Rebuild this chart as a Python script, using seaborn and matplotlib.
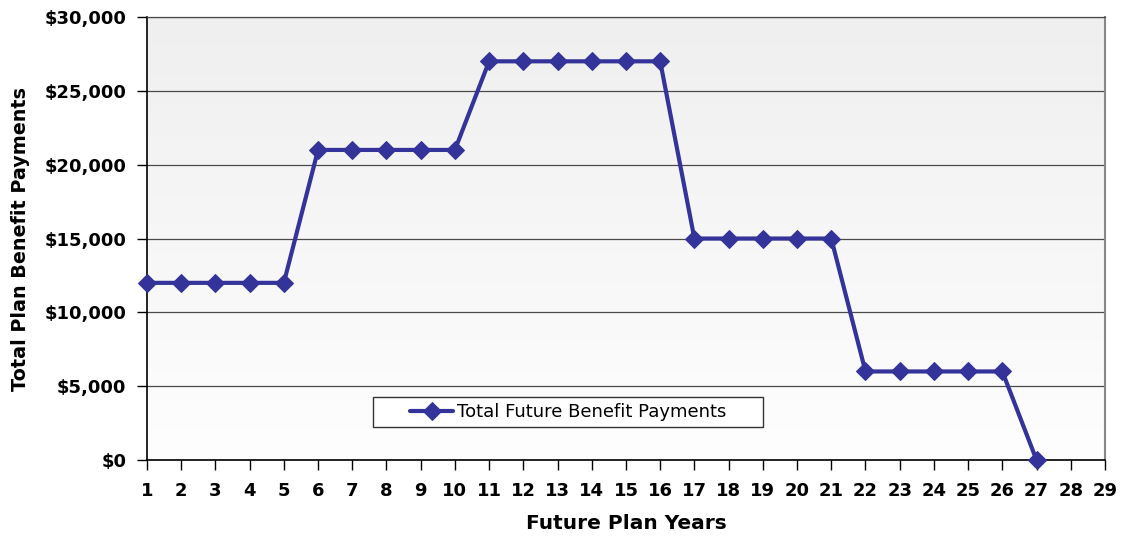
import numpy as np
import pandas as pd
import matplotlib
matplotlib.use("Agg")
import matplotlib.pyplot as plt
import seaborn as sns
from matplotlib.patches import Rectangle

years = list(range(1, 28))
payments = [12000, 12000, 12000, 12000, 12000,
            21000, 21000, 21000, 21000, 21000,
            27000, 27000, 27000, 27000, 27000, 27000,
            15000, 15000, 15000, 15000, 15000,
            6000, 6000, 6000, 6000, 6000,
            0]
x_ticks = list(range(1, 30))
y_ticks = [0, 5000, 10000, 15000, 20000, 25000, 30000]
series_name = "Total Future Benefit Payments"

sns.set_style("white")
plt.rcParams['font.family'] = ['DejaVu Sans']
plt.rcParams['text.color'] = 'black'
plt.rcParams['axes.labelcolor'] = 'black'
plt.rcParams['xtick.color'] = 'black'
plt.rcParams['ytick.color'] = 'black'

df = pd.DataFrame({"year": years, "value": payments})

fig = plt.figure(figsize=(11.21, 5.40), dpi=100)
ax = fig.add_axes([0.1311, 0.148, 0.8546, 0.8205])

# gradient background
grad = np.linspace(0, 1, 256).reshape(-1, 1)
ax.imshow(grad, extent=[0, 1, 0, 1], transform=ax.transAxes, aspect='auto',
          cmap=matplotlib.colors.LinearSegmentedColormap.from_list("g", ["#fefefe", "#efefef"]),
          origin='lower', zorder=0)

sns.lineplot(data=df, x="year", y="value", ax=ax, color="#333399", linewidth=3.0,
             marker="D", markersize=9, markeredgecolor="#333399",
             label=series_name, zorder=3, clip_on=False)

ax.set_xlim(1, 29)
ax.set_ylim(0, 30000)
ax.set_xticks(x_ticks)
ax.set_xticklabels([str(v) for v in x_ticks], fontsize=13, fontweight='bold')
ax.set_yticks(y_ticks)
ax.set_yticklabels([f"${v:,.0f}" for v in y_ticks], fontsize=13, fontweight='bold')
ax.yaxis.grid(True, color="#4a4a4a", linewidth=0.9)
ax.set_axisbelow(True)
ax.tick_params(axis='both', direction='out', length=7, width=1, color='black',
               bottom=True, left=True)
ax.tick_params(axis='y', pad=8)
ax.tick_params(axis='x', pad=9)

ax.set_xlabel("Future Plan Years", fontsize=14.5, fontweight='bold', labelpad=10)
ax.set_ylabel("Total Plan Benefit Payments", fontsize=13.8, fontweight='bold', labelpad=10)

for s in ['left', 'bottom']:
    ax.spines[s].set_color('black')
    ax.spines[s].set_linewidth(1.2)
ax.spines['right'].set_color('#888888')
ax.spines['right'].set_linewidth(1.5)
ax.spines['top'].set_color('#4a4a4a')
ax.spines['top'].set_linewidth(0.9)

# legend
box = Rectangle((0.236, 0.0745), 0.407, 0.068, transform=ax.transAxes,
                facecolor='white', edgecolor='#333333', linewidth=1.0, zorder=4)
ax.add_patch(box)
leg = ax.legend(loc='center', bbox_to_anchor=(0.4395, 0.1085), frameon=False,
                fontsize=13, handlelength=2.4, handletextpad=0.2)
leg.set_zorder(5)

fig.savefig("out.png", dpi=100)
